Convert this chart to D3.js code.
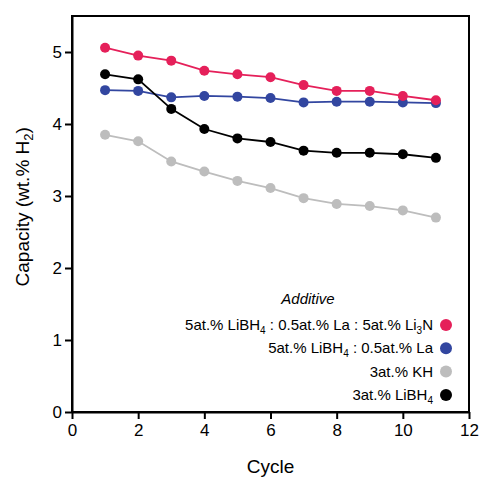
<!DOCTYPE html>
<html>
<head>
    <meta charset="utf-8">
    <title>Capacity vs cycle</title>
    <script src="https://d3js.org/d3.v7.min.js"></script>
    <style>
        html, body { margin: 0; background: #fff; }
        svg { display: block; font-family: "Liberation Sans", Arial, sans-serif; }
        .axis path, .axis line { stroke: #000; stroke-width: 2px; }
        .axis text { font-size: 17px; fill: #000; }
    </style>
</head>
<body>
    <svg width="479" height="477"></svg>
    <script>
        // data
        var cycles = [1, 2, 3, 4, 5, 6, 7, 8, 9, 10, 11];
        var li3n  = [5.06, 4.95, 4.88, 4.74, 4.69, 4.65, 4.54, 4.46, 4.46, 4.39, 4.33];
        var la    = [4.47, 4.46, 4.37, 4.39, 4.38, 4.36, 4.30, 4.31, 4.31, 4.30, 4.29];
        var kh    = [3.85, 3.76, 3.48, 3.34, 3.21, 3.11, 2.97, 2.89, 2.86, 2.80, 2.70];
        var libh4 = [4.69, 4.62, 4.21, 3.93, 3.80, 3.75, 3.63, 3.60, 3.60, 3.58, 3.53];
        var xTicks = [0, 2, 4, 6, 8, 10, 12];
        var yTicks = [0, 1, 2, 3, 4, 5];

        // drawing order: grey, blue, black, red on top
        var series = [
            { key: "kh", values: kh, color: "#bdbdbd" },
            { key: "la", values: la, color: "#3246a0" },
            { key: "libh4", values: libh4, color: "#000000" },
            { key: "li3n", values: li3n, color: "#e5205a" }
        ];

        var svg = d3.select("svg");
        var margin = { left: 72, right: 10, top: 16, bottom: 65 };
        var width = 479 - margin.left - margin.right;
        var height = 477 - margin.top - margin.bottom;

        var x = d3.scaleLinear().domain([0, 12]).range([margin.left, margin.left + width]);
        var y = d3.scaleLinear().domain([0, 5.5]).range([margin.top + height, margin.top]);

        // frame
        svg.append("rect")
            .attr("x", x(0)).attr("y", y(5.5))
            .attr("width", x(12) - x(0)).attr("height", y(0) - y(5.5))
            .attr("fill", "none").attr("stroke", "#000").attr("stroke-width", 2);

        svg.append("g").attr("class", "axis")
            .attr("transform", "translate(0," + y(0) + ")")
            .call(d3.axisBottom(x).tickValues(xTicks).tickFormat(d3.format("d"))
                .tickSize(7).tickPadding(3).tickSizeOuter(0))
            .selectAll("text").attr("dy", "0.85em");

        svg.append("g").attr("class", "axis")
            .attr("transform", "translate(" + x(0) + ",0)")
            .call(d3.axisLeft(y).tickValues(yTicks).tickFormat(d3.format("d"))
                .tickSize(7).tickPadding(3).tickSizeOuter(0));

        var line = d3.line()
            .x(function (d, i) { return x(cycles[i]); })
            .y(function (d) { return y(d); });

        series.forEach(function (s) {
            svg.append("path")
                .datum(s.values)
                .attr("d", line)
                .attr("fill", "none")
                .attr("stroke", s.color)
                .attr("stroke-width", 1.8);
            svg.append("g").selectAll("circle")
                .data(s.values)
                .enter().append("circle")
                .attr("cx", function (d, i) { return x(cycles[i]); })
                .attr("cy", function (d) { return y(d); })
                .attr("r", 5)
                .attr("fill", s.color);
        });

        // axis titles
        svg.append("text")
            .attr("x", x(6)).attr("y", 473)
            .attr("text-anchor", "middle")
            .attr("font-size", 19)
            .text("Cycle");

        var yt = svg.append("text")
            .attr("transform", "translate(29," + y(2.85) + ") rotate(-90)")
            .attr("text-anchor", "middle")
            .attr("font-size", 19);
        yt.append("tspan").text("Capacity (wt.% H");
        yt.append("tspan").attr("font-size", 13).attr("dy", 4).text("2");
        yt.append("tspan").attr("dy", -4).text(")");

        // legend
        var legendItems = [
            { parts: [["5at.% LiBH"], ["4", 1], [" : 0.5at.% La : 5at.% Li"], ["3", 1], ["N"]], color: "#e5205a" },
            { parts: [["5at.% LiBH"], ["4", 1], [" : 0.5at.% La"]], color: "#3246a0" },
            { parts: [["3at.% KH"]], color: "#bdbdbd" },
            { parts: [["3at.% LiBH"], ["4", 1]], color: "#000000" }
        ];

        svg.append("text")
            .attr("x", 308).attr("y", 304)
            .attr("text-anchor", "middle")
            .attr("font-size", 15)
            .attr("font-style", "italic")
            .text("Additive");

        legendItems.forEach(function (item, i) {
            var cy = 325 + i * 23.3;
            var t = svg.append("text")
                .attr("x", 433).attr("y", cy + 5)
                .attr("text-anchor", "end")
                .attr("font-size", 15);
            var shifted = false;
            item.parts.forEach(function (p) {
                var ts = t.append("tspan").text(p[0]);
                if (p[1]) { ts.attr("font-size", 10).attr("dy", 4); shifted = true; }
                else if (shifted) { ts.attr("dy", -4); shifted = false; }
            });
            svg.append("circle")
                .attr("cx", 446).attr("cy", cy)
                .attr("r", 6)
                .attr("fill", item.color);
        });
    </script>
</body>
</html>
